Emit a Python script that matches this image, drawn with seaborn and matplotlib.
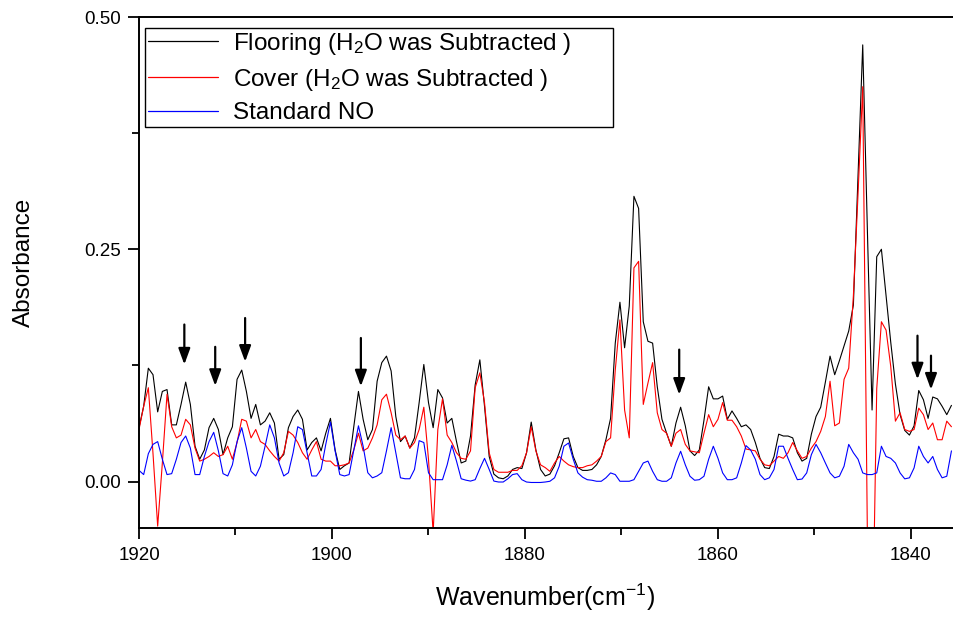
import numpy as np
import pandas as pd
import matplotlib
matplotlib.use("Agg")
import matplotlib.pyplot as plt
import seaborn as sns
from matplotlib.ticker import MultipleLocator, FormatStrFormatter

# Wavenumber grid of the spectra (cm-1), read at the first and last data point
wn_first = 1920.0
wn_last = 1835.78

flooring = [
    0.058, 0.081, 0.122, 0.115, 0.075, 0.097, 0.099, 0.061, 0.061, 0.083,
    0.107, 0.083, 0.038, 0.024, 0.034, 0.058, 0.068, 0.056, 0.029, 0.047,
    0.059, 0.110, 0.120, 0.097, 0.068, 0.083, 0.061, 0.065, 0.074,
    0.063, 0.024, 0.029, 0.058, 0.070, 0.077, 0.067, 0.034, 0.042, 0.047,
    0.033, 0.052, 0.068, 0.034, 0.013, 0.017, 0.020, 0.059, 0.097, 0.067,
    0.045, 0.056, 0.108, 0.128, 0.135, 0.119, 0.070, 0.043, 0.049, 0.036,
    0.047, 0.085, 0.126, 0.085, 0.058, 0.099, 0.090, 0.063, 0.068, 0.043,
    0.020, 0.022, 0.049, 0.104, 0.131, 0.081, 0.027, 0.008, 0.004, 0.003,
    0.006, 0.013, 0.015, 0.014, 0.031, 0.064, 0.034, 0.013, 0.006,
    0.008, 0.017, 0.031, 0.046, 0.047, 0.027, 0.015, 0.012, 0.012, 0.013,
    0.018, 0.027, 0.045, 0.068, 0.149, 0.193, 0.144, 0.189, 0.307, 0.294,
    0.172, 0.151, 0.149, 0.102, 0.067, 0.052, 0.038, 0.063, 0.080,
    0.060, 0.033, 0.028, 0.034, 0.066, 0.102, 0.089, 0.089, 0.092, 0.067,
    0.076, 0.068, 0.059, 0.061, 0.056, 0.042, 0.025, 0.015, 0.014, 0.027,
    0.051, 0.049, 0.049, 0.047, 0.031, 0.022, 0.025, 0.051, 0.070,
    0.080, 0.107, 0.135, 0.115, 0.130, 0.146, 0.162, 0.190, 0.330, 0.470,
    0.270, 0.077, 0.242, 0.250, 0.200, 0.150, 0.105, 0.072, 0.055, 0.050,
    0.060, 0.098, 0.088, 0.068, 0.091, 0.089, 0.081, 0.072, 0.082,
]

cover = [
    0.056, 0.081, 0.101, 0.030, -0.048, 0.020, 0.094, 0.059, 0.047, 0.050,
    0.067, 0.061, 0.036, 0.022, 0.024, 0.027, 0.031, 0.027, 0.029, 0.038,
    0.024, 0.042, 0.067, 0.065, 0.047, 0.056, 0.043, 0.040, 0.033,
    0.027, 0.022, 0.031, 0.054, 0.050, 0.042, 0.031, 0.024, 0.034, 0.043,
    0.024, 0.022, 0.022, 0.017, 0.017, 0.018, 0.020, 0.034, 0.052, 0.033,
    0.036, 0.047, 0.061, 0.088, 0.094, 0.074, 0.050, 0.045, 0.049, 0.036,
    0.042, 0.056, 0.080, 0.024, -0.055, 0.056, 0.089, 0.050, 0.042, 0.031,
    0.025, 0.024, 0.033, 0.101, 0.117, 0.085, 0.031, 0.013, 0.010, 0.010,
    0.010, 0.012, 0.012, 0.017, 0.031, 0.059, 0.033, 0.018, 0.015,
    0.011, 0.020, 0.027, 0.022, 0.018, 0.016, 0.015, 0.015, 0.017, 0.018,
    0.022, 0.027, 0.043, 0.047, 0.120, 0.174, 0.077, 0.047, 0.230, 0.237,
    0.083, 0.106, 0.128, 0.074, 0.056, 0.052, 0.038, 0.052, 0.056,
    0.040, 0.033, 0.032, 0.031, 0.052, 0.072, 0.059, 0.067, 0.085, 0.066,
    0.066, 0.059, 0.049, 0.035, 0.034, 0.033, 0.024, 0.018, 0.017, 0.022,
    0.027, 0.025, 0.031, 0.042, 0.033, 0.025, 0.027, 0.036, 0.043,
    0.054, 0.070, 0.108, 0.060, 0.063, 0.110, 0.122, 0.200, 0.310, 0.425,
    -0.060, -0.200, 0.100, 0.172, 0.163, 0.124, 0.065, 0.074, 0.056, 0.054,
    0.056, 0.079, 0.072, 0.056, 0.063, 0.045, 0.045, 0.065, 0.059,
]

standard_no = [
    0.012, 0.0075, 0.030, 0.040, 0.043, 0.024, 0.0075, 0.0085, 0.024, 0.042,
    0.049, 0.036, 0.0075, 0.0075, 0.027, 0.043, 0.053, 0.033, 0.0085, 0.006,
    0.018, 0.043, 0.058, 0.036, 0.011, 0.006, 0.0165, 0.038, 0.061,
    0.047, 0.020, 0.006, 0.0095, 0.031, 0.059, 0.056, 0.031, 0.006, 0.006,
    0.013, 0.040, 0.064, 0.033, 0.0075, 0.006, 0.0075, 0.034, 0.060, 0.038,
    0.0095, 0.004, 0.006, 0.0095, 0.033, 0.058, 0.031, 0.004, 0.003, 0.003,
    0.013, 0.044, 0.042, 0.0095, 0.002, 0.002, 0.002, 0.018, 0.039, 0.022,
    0.003, 0.0015, 0.0005, 0.002, 0.014, 0.025, 0.013, 0.0005, -0.0005, -0.0005,
    0.003, 0.0075, 0.0085, 0.002, -0.0005, -0.001, -0.001, -0.001, -0.0005,
    0.0003, 0.004, 0.0165, 0.038, 0.0415, 0.024, 0.0093, 0.0047, 0.002, 0.0014,
    0.0003, 0.0003, 0.004, 0.0093, 0.0075, 0.0003, 0.0003, 0.0003, 0.002, 0.011,
    0.020, 0.022, 0.011, 0.002, 0.0003, 0.0003, 0.004, 0.020, 0.0326,
    0.018, 0.0057, 0.0014, 0.002, 0.0057, 0.024, 0.038, 0.025, 0.0093, 0.002,
    0.002, 0.004, 0.020, 0.0387, 0.034, 0.024, 0.0075, 0.002, 0.004, 0.013,
    0.038, 0.038, 0.025, 0.013, 0.002, 0.0027, 0.0093, 0.029, 0.040,
    0.031, 0.020, 0.0093, 0.004, 0.0057, 0.0165, 0.040, 0.031, 0.024, 0.0093,
    0.0075, 0.0075, 0.0093, 0.038, 0.027, 0.025, 0.020, 0.0093, 0.0029, 0.004,
    0.0147, 0.038, 0.027, 0.020, 0.027, 0.013, 0.004, 0.0057, 0.033,
]

series_labels = [
    r"Flooring (H$_2$O was Subtracted )",
    r"Cover (H$_2$O was Subtracted )",
    "Standard NO",
]
series_colors = ["#000000", "#ff0000", "#0000ff"]

# Arrows marking the NO bands (wavenumber, arrow tip, arrow tail)
arrow_wn = [1915.3, 1912.1, 1909.0, 1897.0, 1864.0, 1839.3, 1837.9]
arrow_tip = [0.126, 0.103, 0.129, 0.1025, 0.0935, 0.110, 0.099]
arrow_tail = [0.169, 0.145, 0.176, 0.1545, 0.142, 0.157, 0.1355]

sns.set_style("ticks")
plt.rcParams["font.family"] = ["Liberation Sans", "DejaVu Sans"]
plt.rcParams["mathtext.fontset"] = "custom"
plt.rcParams["mathtext.rm"] = "Liberation Sans"
plt.rcParams["mathtext.it"] = "Liberation Sans:italic"
plt.rcParams["text.color"] = "black"
plt.rcParams["axes.labelcolor"] = "black"
plt.rcParams["xtick.color"] = "black"
plt.rcParams["ytick.color"] = "black"

frames = []
for label, values in zip(series_labels, [flooring, cover, standard_no]):
    wn = np.linspace(wn_first, wn_last, len(values))
    frames.append(pd.DataFrame({"wavenumber": wn, "absorbance": values, "series": label}))
df = pd.concat(frames, ignore_index=True)

fig = plt.figure(figsize=(9.54, 6.17), dpi=100)
ax = fig.add_axes([139 / 954, 89 / 617, 819 / 954, 511 / 617])

sns.lineplot(data=df, x="wavenumber", y="absorbance", hue="series",
             hue_order=series_labels, palette=series_colors,
             estimator=None, sort=False, linewidth=0.8, ax=ax)

ax.set_xlim(1920, 1835.1)
ax.set_ylim(-0.05, 0.5)

ax.xaxis.set_major_locator(MultipleLocator(20))
ax.xaxis.set_minor_locator(MultipleLocator(10))
ax.yaxis.set_major_locator(MultipleLocator(0.25))
ax.yaxis.set_minor_locator(MultipleLocator(0.125))
ax.yaxis.set_major_formatter(FormatStrFormatter("%.2f"))

ax.tick_params(axis="both", which="major", direction="out", length=8, width=1.3,
               labelsize=13.5, colors="black")
ax.tick_params(axis="both", which="minor", direction="out", length=5, width=1.3)
ax.tick_params(axis="x", pad=6)
ax.tick_params(axis="y", pad=5)

for side in ["left", "bottom", "top", "right"]:
    ax.spines[side].set_linewidth(1.4)
    ax.spines[side].set_color("black")

ax.set_xlabel(r"Wavenumber(cm$^{-1}$)", fontsize=18, color="black")
ax.set_ylabel("Absorbance", fontsize=17.5, color="black")
ax.xaxis.set_label_coords(0.496, -0.105)
ax.yaxis.set_label_coords(-0.127, 0.52)

for x, tip, tail in zip(arrow_wn, arrow_tip, arrow_tail):
    ax.annotate("", xy=(x, tip), xytext=(x, tail),
                arrowprops=dict(arrowstyle="-|>,head_length=0.6,head_width=0.22",
                                color="black", lw=1.6, mutation_scale=16,
                                shrinkA=0, shrinkB=0))

handles, labels = ax.get_legend_handles_labels()
leg = ax.legend(handles, labels, loc="upper left",
                bbox_to_anchor=(0.0073, 0.0, 0.5714, 0.9785), mode="expand",
                borderaxespad=0, frameon=True, fancybox=False, framealpha=1,
                edgecolor="black", fontsize=17.5, handlelength=2.9,
                handletextpad=0.6, labelspacing=0.4, borderpad=0.12)
leg.get_frame().set_linewidth(1.0)
for line in leg.get_lines():
    line.set_linewidth(0.9)
for text in leg.get_texts():
    text.set_color("black")

fig.savefig("out.png", dpi=100)
